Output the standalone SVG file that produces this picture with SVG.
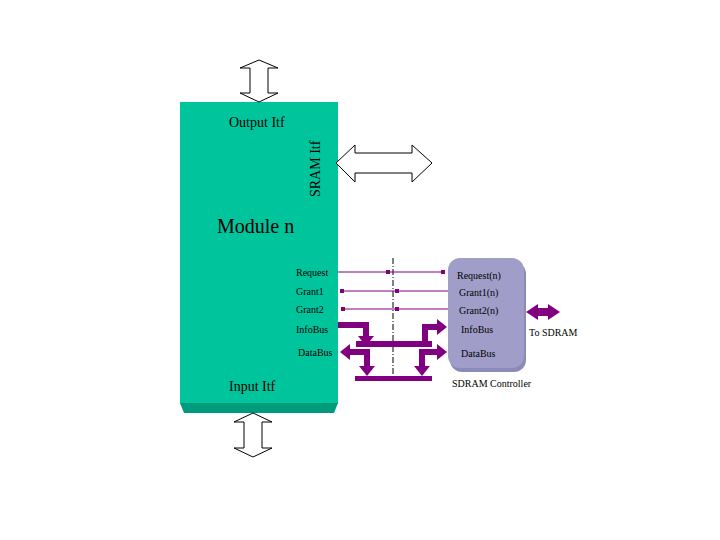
<svg xmlns="http://www.w3.org/2000/svg" width="720" height="540" viewBox="0 0 720 540">
<style>
text{font-family:"Liberation Serif",serif;fill:#000}
.s{font-size:10px}
.m{font-size:14px}
.w{fill:#fff;stroke:#000;stroke-width:1}
.p{fill:#800080}
.l{stroke:#800080;stroke-width:1;fill:none}
.t{stroke:#800080;stroke-width:6;fill:none}
</style>
<rect width="720" height="540" fill="#fff"/>
<g id="module">
<rect x="180" y="102" width="158" height="302" fill="#00c49c"/>
<polygon points="180,403 338,403 334,413 184,413" fill="#009a7c"/>
<text x="229" y="127" class="m">Output Itf</text>
<text x="217" y="233" font-size="20">Module n</text>
<text x="229" y="391" class="m">Input Itf</text>
<text transform="translate(320,197) rotate(-90)" class="m">SRAM Itf</text>
</g>
<g id="sdram">
<rect x="450" y="262" width="76" height="110" rx="12" fill="#8c8ab8"/>
<rect x="448" y="258" width="76" height="110" rx="12" fill="#a09ec8"/>
<text x="457" y="279" class="s">Request(n)</text>
<text x="459" y="296" class="s">Grant1(n)</text>
<text x="459" y="314" class="s">Grant2(n)</text>
<text x="461" y="333" class="s">InfoBus</text>
<text x="461" y="357" class="s">DataBus</text>
<text x="452" y="387" class="s">SDRAM Controller</text>
</g>
<g id="connectors">
<polygon class="w" points="259,60 278,68 268,68 268,93 278,93 259,102 240,93 250,93 250,68 240,68"/>
<polygon class="w" points="253,413 272,422 262,422 262,448 272,448 253,457 234,448 244,448 244,422 234,422"/>
<polygon class="w" points="336,163 355,145 355,153 412,153 412,145 432,163 412,182 412,173 355,173 355,182"/>
<polygon class="p" points="526,312 538,304 538,308 548,308 548,304 560,312 548,320 548,316 538,316 538,320"/>
<line x1="393" y1="258" x2="393" y2="378" stroke="#000" stroke-width="1" stroke-dasharray="6,2,1,2"/>
<line class="l" x1="338" y1="272" x2="445" y2="272"/>
<rect class="p" x="386" y="270" width="4" height="4"/><rect class="p" x="441" y="270" width="4" height="4"/>
<line class="l" x1="340" y1="291" x2="448" y2="291"/>
<rect class="p" x="340" y="289" width="4" height="4"/><rect class="p" x="395" y="289" width="4" height="4"/>
<line class="l" x1="341" y1="309" x2="448" y2="309"/>
<rect class="p" x="341" y="307" width="4" height="4"/><rect class="p" x="395" y="307" width="4" height="4"/>
<text x="296" y="276" class="s">Request</text>
<text x="296" y="295" class="s">Grant1</text>
<text x="296" y="313" class="s">Grant2</text>
<text x="296" y="333" class="s">InfoBus</text>
<text x="298" y="356" class="s">DataBus</text>
<polyline class="t" points="338,325 366,325 366,337"/>
<polygon class="p" points="358,336 374,336 366,346"/>
<rect class="p" x="356" y="341" width="76" height="6"/>
<polyline class="t" points="425,341 425,327 437,327"/>
<polygon class="p" points="437,319 437,335 447,327"/>
<polygon class="p" points="350,344 350,360 340,352"/>
<polyline class="t" points="350,352 367,352 367,367"/>
<polygon class="p" points="359,366 375,366 367,376"/>
<rect class="p" x="355" y="376" width="77" height="5"/>
<polygon class="p" points="414,366 430,366 422,376"/>
<polyline class="t" points="422,367 422,352 437,352"/>
<polygon class="p" points="437,344 437,360 447,352"/>
<text x="529" y="336" class="s">To SDRAM</text>
</g>
</svg>
